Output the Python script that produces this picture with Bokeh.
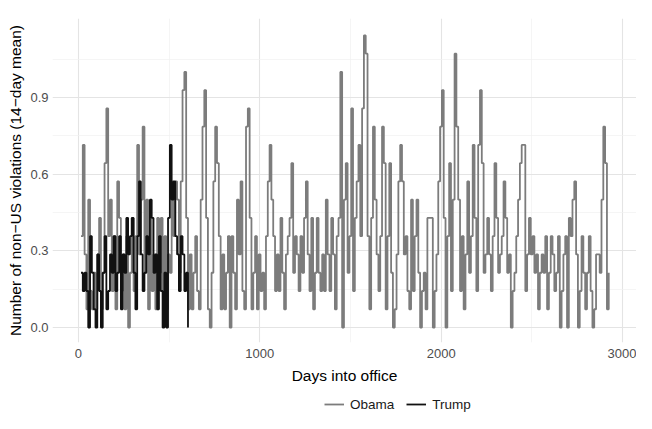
import numpy as np
from bokeh.plotting import figure
from bokeh.layouts import column
from bokeh.models import Range1d, FixedTicker, Legend, LegendItem, PrintfTickFormatter
from bokeh.embed import file_html
from bokeh.resources import INLINE

# ---- data ----
window_days = 14          # rolling window: value = count / 14
first_day = 14            # first day with a full window
sample_step = 10          # one reading every 10 days

# Obama: violations counted in the trailing 14-day window, one reading per 10 days
obama_counts = [
    5, 10, 4, 1, 7, 2, 1, 3, 1, 4,
    6, 1, 3, 9, 12, 5, 7, 2, 5, 1,
    8, 6, 2, 4, 1, 5, 0, 3, 6, 2,
    5, 10, 4, 7, 11, 3, 7, 1, 6, 2,
    4, 1, 6, 3, 6, 2, 5, 1, 4, 3,
    8, 5, 8, 7, 3, 8, 13, 14, 6, 1,
    4, 1, 3, 5, 2, 1, 7, 11, 13, 6,
    1, 0, 3, 8, 11, 9, 5, 1, 4, 1,
    3, 5, 0, 5, 3, 1, 7, 4, 8, 2,
    1, 11, 12, 6, 1, 3, 5, 1, 4, 2,
    3, 1, 5, 8, 10, 7, 5, 2, 4, 2,
    6, 3, 1, 4, 5, 6, 9, 3, 5, 4,
    2, 5, 3, 6, 8, 4, 2, 6, 1, 3,
    6, 3, 2, 4, 2, 7, 4, 2, 6, 4,
    1, 5, 6, 14, 0, 7, 9, 3, 5, 12,
    2, 6, 8, 10, 5, 12, 16, 15, 5, 1,
    6, 11, 7, 4, 2, 5, 11, 9, 1, 5,
    9, 3, 0, 1, 4, 8, 10, 8, 4, 5,
    2, 1, 7, 2, 5, 7, 3, 0, 2, 3,
    1, 6, 6, 6, 0, 2, 4, 8, 11, 13,
    6, 0, 5, 9, 2, 7, 15, 11, 7, 2,
    5, 1, 4, 8, 3, 5, 10, 6, 2, 10,
    13, 9, 3, 4, 6, 4, 2, 5, 9, 6,
    3, 4, 5, 8, 6, 3, 4, 0, 2, 3,
    5, 7, 9, 10, 10, 2, 4, 6, 4, 5,
    3, 4, 1, 3, 4, 3, 5, 1, 3, 5,
    4, 2, 3, 5, 0, 2, 4, 5, 0, 6,
    5, 7, 8, 4, 0, 2, 5, 3, 1, 3,
    5, 2, 0, 1, 4, 4, 3, 7, 11, 9,
    1, 3,
]

# Trump
trump_counts = [
    3, 2, 3, 2, 0, 5, 3, 1, 0, 4,
    2, 0, 3, 5, 1, 2, 4, 3, 5, 2,
    3, 5, 1, 4, 3, 6, 4, 5, 6, 3,
    1, 5, 8, 4, 2, 3, 5, 4, 7, 6,
    3, 4, 1, 5, 2, 0, 3, 0, 6, 10,
    7, 8, 5, 4, 2, 5, 4, 2, 3, 0,
]

series_names = ["Obama", "Trump"]
series_colors = ["#7c7c7c", "#111111"]

x_ticks = [0, 1000, 2000, 3000]
x_minor = [500, 1500, 2500]
y_ticks = [0.0, 0.3, 0.6, 0.9]
y_minor = [0.15, 0.45, 0.75, 1.05]

obama_days = first_day + sample_step * np.arange(len(obama_counts))
obama_mean = np.array(obama_counts) / window_days
trump_days = first_day + sample_step * np.arange(len(trump_counts))
trump_mean = np.array(trump_counts) / window_days

FONT = "Liberation Sans"
W = 636

p = figure(width=W, height=388, output_backend="svg", toolbar_location=None,
           x_range=Range1d(-143, 3077), y_range=Range1d(-0.0587, 1.209),
           min_border_left=52, min_border_right=0, min_border_top=18,
           min_border_bottom=46)
p.outline_line_color = None
p.background_fill_color = "white"
p.border_fill_color = "white"

r_obama = p.step(obama_days, obama_mean, mode="after",
                 line_color=series_colors[0], line_width=1.8)
r_trump = p.step(trump_days, trump_mean, mode="after",
                 line_color=series_colors[1], line_width=1.8)

# axes
p.xaxis.ticker = FixedTicker(ticks=x_ticks, minor_ticks=x_minor)
p.yaxis.ticker = FixedTicker(ticks=y_ticks, minor_ticks=y_minor)
p.yaxis.formatter = PrintfTickFormatter(format="%.1f")
p.xaxis.axis_label = "Days into office"
p.yaxis.axis_label = "Number of non\u2212US violations (14\u2212day mean)"
for ax in (p.xaxis, p.yaxis):
    ax.axis_line_color = None
    ax.major_tick_line_color = None
    ax.minor_tick_line_color = None
    ax.major_tick_out = 0
    ax.minor_tick_out = 0
    ax.major_label_text_font = FONT
    ax.major_label_text_font_size = "13px"
    ax.major_label_text_color = "#4d4d4d"
    ax.axis_label_text_font = FONT
    ax.axis_label_text_font_size = "15.5px"
    ax.axis_label_text_font_style = "normal"
    ax.axis_label_text_color = "#000000"
p.xaxis.major_label_standoff = 6
p.xaxis.axis_label_standoff = 6
p.yaxis.major_label_standoff = 4
p.yaxis.axis_label_standoff = 3

# grid
for g in (p.xgrid, p.ygrid):
    g.grid_line_color = "#e4e4e4"
    g.grid_line_width = 1.1
    g.minor_grid_line_color = "#f1f1f1"
    g.minor_grid_line_width = 0.7

# legend strip below the chart: same series drawn on a canvas whose ranges
# show none of the data, so only the legend keys are visible
lg = figure(width=W, height=25, output_backend="svg", toolbar_location=None,
            x_range=Range1d(-2, -1), y_range=Range1d(-2, -1),
            min_border_left=0, min_border_right=0, min_border_top=0, min_border_bottom=0)
lg.axis.visible = False
lg.grid.visible = False
lg.outline_line_color = None
key_obama = lg.line(obama_days, obama_mean, line_color=series_colors[0], line_width=1.8)
key_trump = lg.line(trump_days, trump_mean, line_color=series_colors[1], line_width=1.8)
legend = Legend(
    items=[LegendItem(label=series_names[0], renderers=[key_obama]),
           LegendItem(label=series_names[1], renderers=[key_trump])],
    orientation="horizontal", location=(272, 1),
    border_line_color=None, background_fill_alpha=0,
    label_text_font=FONT, label_text_font_size="13.5px", label_text_color="#1a1a1a",
    glyph_width=20, glyph_height=16, label_height=16, label_standoff=6,
    spacing=12, padding=0, margin=0,
)
lg.add_layout(legend, "center")

layout = column(p, lg, spacing=0)
open("out.html", "w").write(file_html(layout, INLINE))
